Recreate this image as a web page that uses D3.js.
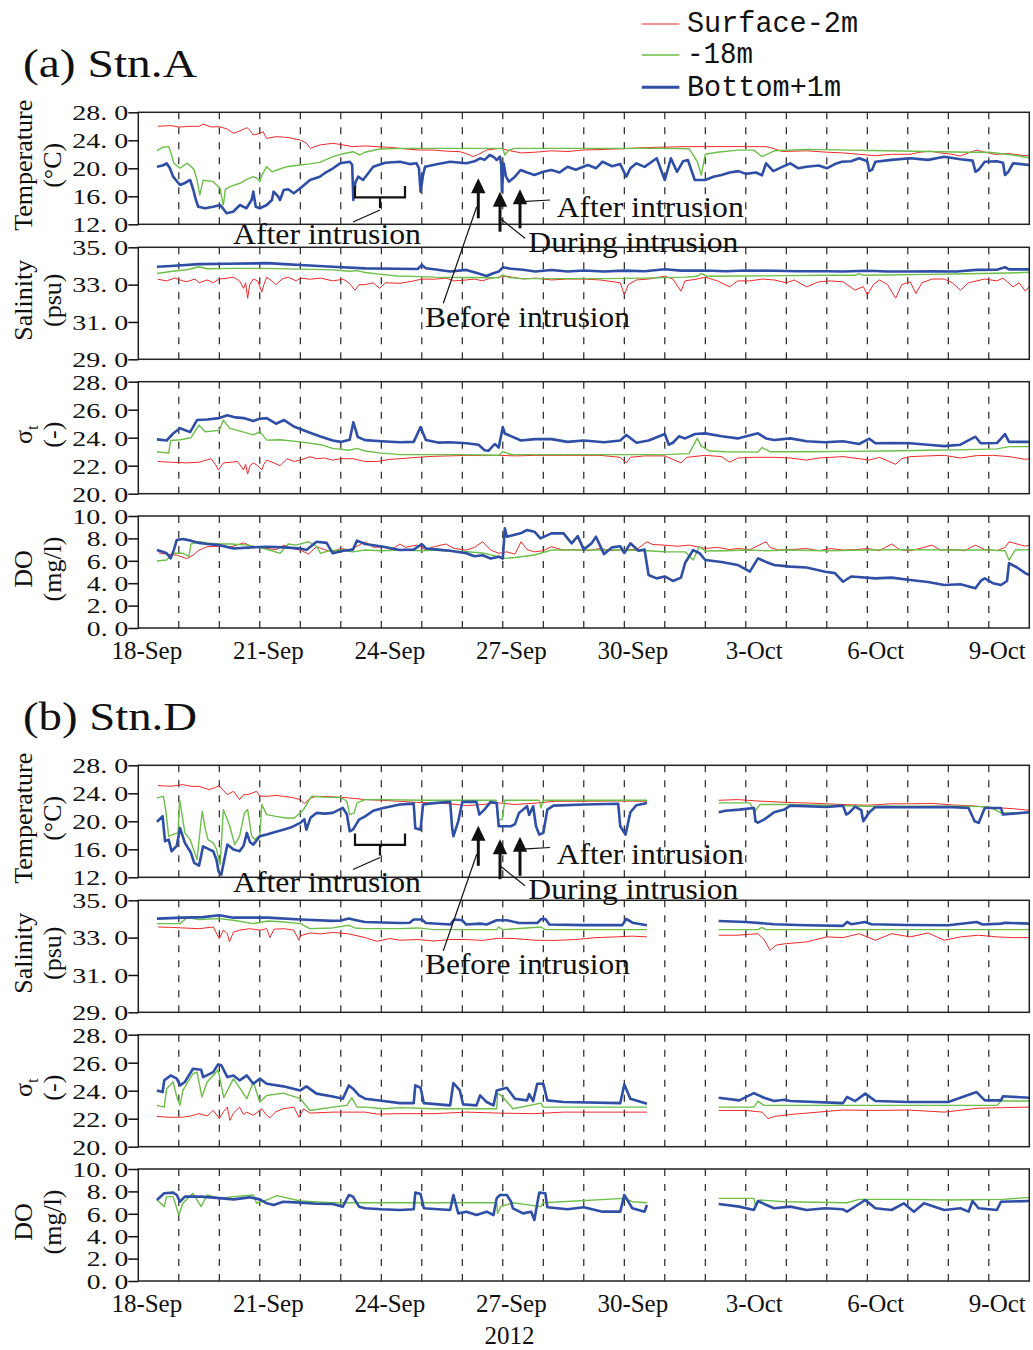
<!DOCTYPE html>
<html><head><meta charset="utf-8">
<script src="https://cdn.jsdelivr.net/npm/d3@7"></script>
<style>body{margin:0;background:#fff}</style>
</head><body><svg id="c" width="1033" height="1350" xmlns="http://www.w3.org/2000/svg"></svg>
<script>
// ---------------- DATA (day = days since 18-Sep-2012 00:00) ----------------
const seriesNames = ["Surface-2m", "-18m", "Bottom+1m"];
const xTickDays = [0, 3, 6, 9, 12, 15, 18, 21];
const xTickLabels = ["18-Sep", "21-Sep", "24-Sep", "27-Sep", "30-Sep", "3-Oct", "6-Oct", "9-Oct"];
const tempTicks = [28, 24, 20, 16, 12];
const salTicks = [35, 33, 31, 29];
const sigTicks = [28, 26, 24, 22, 20];
const doTicks = [10, 8, 6, 4, 2, 0];
const yearLabel = "2012";

// ---- Stn.A ----
const tempA_s = [[0.48,26.0],[0.8,26.1],[1.0,25.9],[1.3,26.0],[1.5,26.0],[1.6,26.3],[1.8,25.9],[2.0,25.95],[2.2,25.6],[2.35,25.0],[2.5,25.3],[2.68,25.8],[2.75,25.5],[2.84,24.76],[3.0,25.0],[3.08,25.24],[3.17,24.28],[3.4,24.52],[3.7,24.4],[4.0,24.04],[4.15,23.6],[4.25,22.85],[4.48,23.33],[4.8,23.57],[5.0,23.4],[5.3,23.09],[5.6,23.2],[5.9,23.09],[6.2,23.0],[6.46,22.85],[6.7,22.7],[6.96,22.61],[7.3,22.6],[7.6,22.45],[7.94,22.37],[8.1,22.1],[8.27,21.66],[8.4,22.0],[8.6,22.61],[8.93,22.85],[9.1,22.6],[9.46,22.2],[9.8,22.3],[10.2,22.5],[10.6,22.4],[11.0,22.61],[11.5,22.7],[12.0,22.8],[12.3,22.9],[12.8,23.0],[13.5,23.09],[14.5,23.1],[15.5,23.09],[15.7,22.8],[15.9,22.4],[16.5,22.5],[17.0,22.3],[17.4,22.2],[17.8,22.0],[18.2,21.8],[18.6,22.0],[19.05,22.0],[19.3,22.3],[19.56,22.45],[19.8,22.2],[20.1,22.0],[20.3,21.75],[20.5,22.2],[20.7,22.6],[20.9,22.3],[21.15,22.0],[21.5,22.1],[21.9,21.8],[22.0,21.9]];
const tempA_m = [[0.46,22.52],[0.6,23.0],[0.75,23.09],[0.8,22.3],[0.88,20.71],[1.03,20.0],[1.2,20.71],[1.3,20.3],[1.38,19.76],[1.45,18.3],[1.52,16.19],[1.6,18.3],[1.85,18.09],[2.02,17.14],[2.07,15.5],[2.1,14.76],[2.15,17.0],[2.26,17.37],[2.51,17.86],[2.7,18.5],[2.84,18.8],[2.95,18.5],[3.0,18.09],[3.05,19.0],[3.17,20.23],[3.3,19.5],[3.42,19.76],[3.66,20.23],[3.99,20.47],[4.2,20.6],[4.48,20.85],[4.81,21.66],[5.0,22.0],[5.3,22.37],[5.47,21.9],[5.6,22.3],[5.96,22.76],[6.5,22.85],[7.5,22.85],[8.5,22.85],[9.0,22.85],[9.05,21.9],[9.15,22.6],[9.3,22.85],[10,22.85],[11,22.85],[12,22.85],[13,22.85],[13.6,22.8],[13.8,21.0],[13.9,19.04],[14.0,22.0],[14.3,22.3],[14.8,22.6],[15.2,22.6],[15.4,21.66],[15.7,22.5],[16.5,22.7],[17.5,22.6],[18.5,22.5],[19.5,22.4],[20.5,22.3],[21.0,22.3],[21.6,21.9],[22.0,21.5]];
const tempA_b = [[0.46,20.23],[0.6,20.4],[0.7,20.71],[0.78,20.0],[0.86,18.8],[1.03,17.61],[1.15,17.9],[1.28,18.33],[1.36,16.9],[1.42,15.5],[1.48,14.51],[1.65,14.3],[1.85,14.51],[2.02,14.76],[2.1,14.2],[2.18,13.57],[2.34,13.8],[2.51,14.76],[2.6,14.5],[2.67,14.29],[2.8,15.5],[2.84,16.66],[2.9,14.51],[3.0,14.3],[3.17,14.76],[3.3,15.47],[3.34,16.66],[3.45,16.0],[3.5,15.47],[3.59,16.9],[3.7,17.0],[3.84,16.43],[4.0,17.14],[4.24,18.33],[4.48,18.8],[4.6,19.3],[4.81,20.0],[4.98,20.71],[5.22,20.94],[5.28,20.5],[5.31,15.47],[5.36,18.0],[5.43,18.8],[5.55,18.33],[5.8,20.23],[6.1,20.8],[6.46,20.94],[6.7,20.6],[6.87,20.71],[6.93,20.0],[6.97,16.66],[7.03,19.0],[7.08,20.23],[7.4,20.6],[7.7,20.94],[8.1,20.71],[8.3,21.0],[8.44,21.43],[8.55,21.2],[8.68,21.9],[8.78,21.6],[8.85,21.19],[8.93,21.66],[8.96,20.5],[8.98,16.66],[9.02,20.71],[9.08,18.8],[9.15,18.09],[9.3,18.8],[9.44,19.76],[9.6,19.4],[9.78,19.04],[10.0,19.5],[10.2,19.76],[10.4,19.4],[10.6,20.23],[10.8,19.8],[11.1,20.47],[11.3,20.0],[11.46,20.94],[11.7,20.3],[11.9,20.6],[12.05,18.8],[12.15,20.0],[12.3,20.71],[12.5,20.2],[12.8,21.43],[13.0,18.33],[13.15,21.43],[13.3,19.5],[13.45,21.0],[13.57,21.19],[13.74,18.33],[14.0,18.33],[14.2,18.8],[14.4,19.04],[14.6,19.4],[14.82,19.6],[15.0,19.2],[15.25,19.4],[15.4,19.0],[15.5,20.71],[15.68,19.6],[15.9,20.2],[16.1,20.71],[16.3,20.0],[16.5,20.23],[16.8,20.4],[17.0,20.0],[17.2,20.6],[17.37,20.94],[17.6,21.0],[17.8,21.43],[18.0,21.0],[18.05,19.6],[18.12,19.8],[18.2,20.94],[18.6,21.2],[19.06,21.43],[19.5,21.2],[19.9,21.66],[20.3,21.3],[20.6,21.1],[20.67,19.5],[20.75,19.8],[20.9,20.94],[21.2,21.0],[21.35,20.8],[21.4,19.04],[21.48,19.5],[21.6,20.71],[21.8,20.6],[22.0,20.47]];

const salA_s = [[0.48,33.29],[0.7,33.2],[0.9,33.35],[1.1,33.2],[1.2,33.16],[1.4,33.3],[1.5,33.1],[1.7,33.25],[1.85,33.1],[2.0,33.3],[2.2,33.35],[2.35,33.4],[2.5,33.2],[2.6,32.8],[2.65,33.1],[2.7,32.27],[2.75,33.0],[2.84,33.3],[2.95,33.2],[3.05,32.6],[3.1,33.0],[3.17,33.4],[3.3,33.2],[3.4,33.0],[3.55,33.3],[3.7,33.4],[3.9,33.2],[4.0,33.35],[4.24,33.29],[4.5,33.35],[4.8,33.2],[5.06,33.29],[5.2,33.1],[5.35,32.7],[5.45,33.0],[5.6,33.0],[5.8,33.1],[5.96,32.8],[6.1,33.1],[6.46,33.07],[6.8,33.2],[7.0,33.3],[7.3,33.29],[7.6,33.35],[7.8,33.2],[8.1,33.25],[8.3,33.3],[8.5,33.2],[8.7,33.35],[8.9,33.4],[9.1,33.45],[9.5,33.3],[9.8,33.35],[10.2,33.25],[10.6,33.3],[11.0,33.3],[11.4,33.25],[11.9,33.1],[12.0,32.45],[12.1,33.0],[12.3,33.25],[12.6,33.3],[13.0,33.45],[13.2,33.3],[13.4,32.65],[13.5,33.2],[13.8,33.3],[14.0,33.4],[14.3,33.2],[14.6,32.88],[14.8,33.2],[15.1,33.2],[15.4,33.3],[15.7,33.25],[16.0,33.1],[16.2,33.25],[16.5,32.88],[16.8,33.15],[17.1,33.2],[17.4,33.15],[17.7,32.7],[17.9,32.9],[18.0,32.45],[18.15,33.0],[18.3,33.25],[18.5,33.0],[18.7,32.27],[18.85,33.0],[19.06,33.15],[19.2,32.52],[19.35,33.1],[19.6,33.3],[19.9,33.3],[20.1,33.1],[20.3,32.7],[20.5,33.1],[20.9,33.3],[21.2,33.2],[21.35,33.35],[21.6,32.88],[21.75,33.1],[21.9,32.65],[22.0,32.9]];
const salA_m = [[0.46,33.6],[0.8,33.7],[1.2,33.8],[1.5,33.96],[1.7,33.85],[2.3,33.87],[3.1,33.87],[4.0,33.83],[4.8,33.79],[5.2,33.72],[5.4,33.75],[5.6,33.65],[6.0,33.55],[6.4,33.46],[7.0,33.43],[7.3,33.4],[8.0,33.38],[8.9,33.37],[9.0,33.52],[9.15,33.38],[9.5,33.32],[10.5,33.32],[11.5,33.32],[12.5,33.35],[13.5,33.4],[13.8,33.45],[13.9,33.59],[14.05,33.45],[15.0,33.46],[16.0,33.48],[17.0,33.5],[17.7,33.5],[17.8,33.59],[17.9,33.5],[18.5,33.52],[19.5,33.55],[20.5,33.58],[21.5,33.62],[22.0,33.66]];
const salA_b = [[0.46,33.96],[0.8,34.0],[1.5,34.1],[2.2,34.12],[3.2,34.15],[3.6,34.1],[4.0,34.05],[4.8,33.96],[5.6,33.87],[6.4,33.85],[6.9,33.84],[7.0,34.05],[7.1,33.88],[7.3,33.82],[7.7,33.7],[8.1,33.79],[8.4,33.6],[8.6,33.46],[8.75,33.6],[8.9,33.7],[9.0,33.93],[9.2,33.85],[9.5,33.8],[9.8,33.7],[10.2,33.78],[10.6,33.7],[11.0,33.76],[11.5,33.7],[12.0,33.75],[12.5,33.72],[13.0,33.82],[13.4,33.75],[14.0,33.76],[14.5,33.72],[15.0,33.76],[15.7,33.74],[16.3,33.72],[17.0,33.72],[17.4,33.7],[18.0,33.74],[18.5,33.7],[19.06,33.7],[19.6,33.72],[20.2,33.7],[20.7,33.79],[21.2,33.8],[21.4,33.93],[21.5,33.82],[22.0,33.82]];

const sigA_s = [[0.48,22.3],[0.8,22.25],[1.2,22.2],[1.5,22.25],[1.8,22.5],[1.9,22.1],[1.98,21.7],[2.1,22.2],[2.3,22.25],[2.45,22.3],[2.6,21.7],[2.65,22.1],[2.7,21.4],[2.76,22.0],[2.84,22.2],[2.95,22.0],[3.05,21.7],[3.1,22.1],[3.17,22.4],[3.35,22.2],[3.5,22.0],[3.67,22.5],[3.85,22.3],[4.0,22.4],[4.24,22.64],[4.4,22.5],[4.6,22.55],[4.8,22.4],[5.0,22.5],[5.3,22.5],[5.6,22.3],[5.9,22.3],[6.2,22.45],[6.46,22.5],[6.9,22.6],[7.3,22.67],[7.7,22.7],[8.1,22.74],[8.5,22.72],[8.9,22.74],[9.3,22.7],[9.8,22.74],[10.5,22.74],[11.4,22.74],[11.9,22.6],[12.05,22.2],[12.15,22.6],[12.5,22.7],[13.0,22.7],[13.4,22.2],[13.55,22.6],[14.0,22.74],[14.4,22.65],[14.6,22.25],[14.8,22.55],[15.2,22.6],[15.7,22.6],[16.1,22.55],[16.5,22.4],[16.8,22.55],[17.4,22.65],[17.8,22.5],[18.05,22.4],[18.3,22.6],[18.7,22.1],[18.85,22.5],[19.06,22.65],[19.5,22.7],[19.9,22.74],[20.3,22.55],[20.7,22.72],[21.1,22.74],[21.5,22.65],[21.9,22.45],[22.0,22.5]];
const sigA_m = [[0.46,23.0],[0.75,22.9],[0.8,23.8],[1.03,23.85],[1.3,24.0],[1.5,24.9],[1.65,24.43],[2.0,24.52],[2.1,25.26],[2.26,24.67],[2.6,24.4],[2.84,24.2],[3.0,24.43],[3.17,23.83],[3.5,23.85],[4.0,23.7],[4.5,23.5],[4.8,23.24],[5.2,23.1],[5.4,23.24],[5.6,23.05],[6.0,22.9],[6.46,22.79],[7.0,22.79],[8.0,22.79],[8.9,22.75],[9.0,23.0],[9.2,22.8],[10,22.79],[11,22.79],[12,22.79],[13,22.79],[13.6,22.86],[13.8,23.95],[13.9,23.4],[14.1,23.05],[14.5,23.0],[15.3,22.97],[15.4,23.3],[15.6,23.0],[16.5,23.0],[17.5,23.02],[18.5,23.05],[19.5,23.1],[20.5,23.15],[21.2,23.2],[21.5,23.36],[22.0,23.36]];
const sigA_b = [[0.46,23.88],[0.7,23.8],[0.86,24.3],[1.03,24.67],[1.28,24.4],[1.45,25.26],[1.7,25.3],[2.0,25.4],[2.2,25.6],[2.4,25.45],[2.6,25.4],[2.84,25.2],[3.0,25.35],[3.17,25.4],[3.4,25.0],[3.6,25.26],[3.84,24.8],[4.24,24.36],[4.48,24.1],[4.8,23.8],[5.0,23.7],[5.22,23.85],[5.31,25.1],[5.42,24.05],[5.6,23.83],[6.0,23.75],[6.46,23.67],[6.8,23.7],[6.97,24.76],[7.1,23.83],[7.4,23.65],[7.7,23.67],[8.1,23.6],[8.4,23.5],[8.55,23.1],[8.65,23.07],[8.8,23.55],[8.9,23.3],[9.0,24.76],[9.05,24.3],[9.45,23.8],[9.8,23.9],[10.2,23.9],[10.6,23.7],[11.0,23.8],[11.5,23.67],[11.9,23.8],[12.05,24.19],[12.3,23.64],[12.6,23.8],[13.0,24.26],[13.1,23.5],[13.2,23.64],[13.35,24.1],[13.5,23.95],[13.75,24.26],[14.0,24.31],[14.4,24.1],[14.8,23.95],[15.3,24.31],[15.5,23.95],[15.7,23.83],[16.1,23.95],[16.5,23.75],[16.95,23.67],[17.4,23.75],[17.8,23.55],[18.05,23.93],[18.2,23.6],[18.6,23.62],[19.06,23.6],[19.5,23.5],[19.9,23.4],[20.3,23.5],[20.67,24.07],[20.8,23.6],[21.2,23.62],[21.4,24.26],[21.5,23.7],[22.0,23.7]];

const doA_s = [[0.5,6.7],[0.7,6.6],[0.95,6.5],[1.2,6.2],[1.35,6.5],[1.5,6.96],[1.7,7.26],[2.0,7.3],[2.3,7.26],[2.6,7.6],[2.8,7.3],[3.17,7.1],[3.4,7.0],[3.6,7.4],[3.8,7.1],[4.0,6.96],[4.2,6.6],[4.4,7.26],[4.6,7.0],[4.8,6.8],[5.0,7.1],[5.2,6.96],[5.4,7.3],[5.6,7.7],[5.8,7.2],[6.05,7.26],[6.25,7.0],[6.46,7.5],[6.6,7.2],[6.87,7.4],[7.1,7.0],[7.3,7.26],[7.6,7.5],[7.8,7.1],[8.1,6.96],[8.3,7.2],[8.5,7.7],[8.7,6.96],[8.9,6.67],[9.1,6.8],[9.3,6.6],[9.45,7.7],[9.6,7.0],[9.78,6.8],[10.0,6.9],[10.2,7.26],[10.5,6.96],[10.8,7.0],[11.1,6.9],[11.4,7.1],[11.7,6.9],[12.0,7.0],[12.3,7.0],[12.56,7.7],[12.7,7.45],[13.0,7.4],[13.3,7.3],[13.6,7.4],[14.0,7.1],[14.3,7.2],[14.6,7.0],[14.8,7.1],[15.1,7.0],[15.5,7.7],[15.6,7.2],[15.8,6.96],[16.1,7.0],[16.5,7.1],[16.8,6.9],[17.1,7.1],[17.4,6.96],[17.7,7.0],[18.0,7.1],[18.3,6.9],[18.6,7.5],[18.8,7.0],[19.06,6.9],[19.3,7.1],[19.6,7.4],[19.8,6.96],[20.1,7.0],[20.4,6.9],[20.67,7.4],[20.9,7.0],[21.2,6.9],[21.4,7.2],[21.5,7.7],[21.7,7.5],[21.9,7.3],[22.0,7.4]];
const doA_m = [[0.46,5.98],[0.7,6.07],[0.86,6.67],[1.1,6.67],[1.25,6.4],[1.3,7.5],[1.5,7.7],[1.7,7.6],[2.0,7.5],[2.3,7.5],[2.7,7.4],[3.1,7.1],[3.3,6.9],[3.5,6.67],[3.7,7.5],[3.9,7.4],[4.2,7.7],[4.4,7.3],[4.5,6.67],[4.7,6.9],[5.0,6.96],[5.3,6.8],[5.6,6.96],[6.0,6.9],[6.46,6.96],[7.0,6.9],[7.3,6.96],[7.7,6.85],[8.1,6.81],[8.5,6.7],[8.9,6.37],[9.05,6.22],[9.3,6.3],[9.78,6.52],[10.2,6.96],[11.0,6.96],[12.0,6.96],[12.56,6.9],[13.0,6.81],[13.5,6.8],[13.7,6.07],[13.85,7.26],[14.0,6.87],[14.5,6.9],[15.0,6.96],[15.5,6.9],[16.0,6.96],[17.0,6.9],[18.0,6.96],[19.0,7.0],[20.0,6.96],[21.0,6.96],[21.4,6.9],[21.5,6.07],[21.65,6.96],[22.0,7.0]];
const doA_b = [[0.46,6.96],[0.6,6.8],[0.7,6.67],[0.8,6.22],[0.88,7.0],[0.95,7.86],[1.1,7.95],[1.3,7.8],[1.5,7.6],[1.7,7.5],[2.0,7.4],[2.35,7.1],[2.8,7.2],[3.17,7.26],[3.6,7.2],[4.0,7.1],[4.15,6.96],[4.4,7.7],[4.65,7.6],[4.8,6.67],[5.06,6.9],[5.3,7.0],[5.4,7.8],[5.6,7.5],[6.05,7.26],[6.46,6.96],[6.8,7.0],[7.0,7.5],[7.1,7.1],[7.4,7.0],[7.7,6.9],[8.1,6.67],[8.3,6.4],[8.5,6.5],[8.7,6.2],[8.9,6.37],[9.0,6.2],[9.05,8.9],[9.1,8.15],[9.27,8.3],[9.44,8.45],[9.6,8.75],[9.78,8.6],[9.93,8.0],[10.2,8.45],[10.5,8.45],[10.7,7.56],[10.85,8.2],[11.0,7.0],[11.2,7.6],[11.3,8.15],[11.5,6.6],[11.7,7.2],[11.9,7.3],[12.0,6.7],[12.15,7.56],[12.35,6.9],[12.5,7.0],[12.6,4.73],[12.8,4.43],[13.0,4.6],[13.2,4.2],[13.4,4.5],[13.5,5.8],[13.7,6.96],[13.85,6.7],[14.0,6.07],[14.4,5.9],[14.8,5.63],[15.1,5.03],[15.3,6.22],[15.5,5.9],[15.7,5.63],[16.1,5.48],[16.5,5.4],[16.96,5.03],[17.2,4.9],[17.4,4.13],[17.6,4.6],[18.2,4.43],[18.6,4.5],[19.06,4.29],[19.5,4.1],[19.9,3.84],[20.3,3.9],[20.67,3.54],[20.8,4.2],[20.9,4.43],[21.1,4.0],[21.3,3.84],[21.45,4.2],[21.5,5.78],[21.7,5.4],[21.9,4.9],[22.0,4.73]];

// ---- Stn.D (null = no data, instrument gap) ----
const tempD_s = [[0.49,25.1],[0.8,25.0],[1.1,25.24],[1.3,25.0],[1.5,25.0],[1.75,24.53],[1.9,24.8],[2.0,25.1],[2.1,24.4],[2.2,23.81],[2.35,24.29],[2.5,23.1],[2.6,23.8],[2.68,23.81],[2.8,24.0],[2.92,24.29],[3.0,23.6],[3.17,23.57],[3.4,23.7],[3.58,23.57],[3.8,23.4],[4.0,23.1],[4.1,22.53],[4.25,23.3],[4.4,23.57],[4.8,23.5],[5.2,23.34],[5.6,23.1],[6.0,23.0],[6.46,22.86],[6.87,22.7],[7.3,22.63],[7.7,22.5],[8.1,22.24],[8.5,22.4],[8.9,22.63],[9.3,22.4],[9.8,22.6],[10.3,22.86],[11.0,22.86],[11.8,22.9],[12.56,22.86],[13.5,null],[14.33,23.0],[14.8,23.1],[15.3,22.9],[16.0,22.7],[16.6,22.6],[17.4,22.39],[18.0,22.3],[18.6,22.5],[19.1,22.5],[19.6,22.55],[20.2,22.3],[20.6,22.2],[21.0,22.0],[21.3,21.91],[21.6,21.8],[22.0,21.57]];
const tempD_m = [[0.46,23.34],[0.62,23.57],[0.68,21.5],[0.75,17.86],[0.9,18.2],[0.98,18.34],[1.02,23.1],[1.08,21.0],[1.15,18.34],[1.28,17.39],[1.45,14.53],[1.55,20.0],[1.58,21.43],[1.65,19.0],[1.72,17.39],[1.85,16.91],[1.93,16.0],[2.02,13.81],[2.1,21.67],[2.26,19.29],[2.38,16.67],[2.5,17.86],[2.62,21.2],[2.7,21.67],[2.8,17.86],[2.88,17.39],[3.0,18.0],[3.05,22.39],[3.17,20.96],[3.4,20.7],[3.65,20.48],[3.85,20.48],[4.0,21.2],[4.08,21.67],[4.2,22.86],[4.28,23.57],[4.6,23.45],[5.0,23.4],[5.15,22.86],[5.22,20.96],[5.33,21.2],[5.4,22.63],[5.6,23.1],[6.0,23.1],[7.0,23.0],[8.0,23.0],[8.83,23.0],[8.88,20.24],[8.98,20.24],[9.05,23.0],[9.5,23.0],[9.9,23.0],[9.94,21.91],[10.0,23.0],[11.0,23.0],[12.0,23.0],[12.56,23.0],[13.5,null],[14.33,22.63],[15.1,22.63],[15.22,21.43],[15.35,22.39],[16.0,22.39],[17.0,22.3],[17.9,22.15],[19.0,22.15],[20.0,22.15],[21.0,22.1],[21.3,21.2],[21.6,21.2],[22.0,21.2]];
const tempD_b = [[0.46,19.91],[0.6,20.72],[0.66,17.15],[0.75,17.39],[0.82,15.72],[0.95,16.5],[1.03,19.05],[1.15,16.91],[1.3,15.5],[1.38,14.05],[1.5,13.67],[1.6,16.43],[1.75,16.0],[1.85,15.72],[1.93,14.5],[1.98,12.86],[2.05,12.39],[2.2,16.67],[2.35,15.96],[2.5,15.72],[2.6,16.5],[2.68,18.34],[2.76,17.0],[2.84,16.67],[3.0,17.86],[3.17,18.1],[3.4,18.5],[3.58,18.81],[3.8,19.2],[4.0,19.77],[4.1,20.3],[4.15,18.81],[4.25,20.5],[4.4,21.2],[4.6,21.1],[4.8,21.2],[5.05,21.91],[5.15,21.0],[5.22,18.57],[5.3,18.81],[5.45,20.24],[5.6,20.7],[5.8,21.5],[6.05,21.91],[6.46,22.39],[6.8,22.53],[6.84,19.0],[6.97,18.81],[7.03,22.4],[7.3,22.6],[7.7,22.77],[7.75,19.0],[7.78,17.86],[7.9,20.0],[8.0,22.77],[8.35,22.77],[8.42,20.96],[8.55,21.7],[8.7,22.77],[8.85,22.6],[8.9,19.29],[9.2,19.29],[9.3,19.6],[9.4,21.2],[9.6,22.15],[9.65,20.9],[9.75,22.15],[9.82,19.29],[9.9,18.1],[10.0,18.34],[10.1,21.67],[10.25,22.24],[11.0,22.39],[11.85,22.5],[11.9,19.29],[12.03,18.1],[12.15,21.29],[12.3,22.3],[12.56,22.6],[13.5,null],[14.33,21.29],[14.5,21.5],[14.84,21.67],[15.2,21.9],[15.24,20.0],[15.3,19.8],[15.45,20.24],[15.7,21.29],[15.95,21.67],[16.1,22.24],[17.0,22.05],[17.4,22.24],[17.48,20.96],[17.55,21.2],[17.7,22.1],[17.85,21.6],[17.9,20.0],[18.05,21.29],[18.2,22.05],[19.0,22.0],[20.0,22.05],[20.5,21.9],[20.65,20.0],[20.75,19.77],[20.9,21.91],[21.3,21.91],[21.35,20.96],[21.6,21.1],[22.0,21.29]];

const salD_s = [[0.49,33.57],[0.8,33.55],[1.1,33.52],[1.5,33.48],[1.85,33.57],[2.0,32.95],[2.1,33.4],[2.2,33.21],[2.25,32.77],[2.35,33.3],[2.5,33.4],[2.75,33.48],[3.0,33.4],[3.17,33.48],[3.25,33.0],[3.35,33.45],[3.6,33.48],[3.84,33.4],[3.97,32.85],[4.0,33.1],[4.24,33.25],[4.5,33.2],[4.8,33.28],[5.2,33.2],[5.6,33.0],[5.9,32.8],[6.2,32.95],[6.46,32.86],[6.9,32.9],[7.3,32.82],[7.7,32.9],[8.1,32.9],[8.5,32.85],[8.9,32.97],[9.3,32.95],[9.8,32.86],[10.3,32.85],[10.8,32.9],[11.3,33.0],[11.8,33.04],[12.2,33.08],[12.56,33.04],[13.5,null],[14.33,33.13],[14.8,33.13],[15.3,33.21],[15.45,32.9],[15.6,32.32],[15.75,32.6],[16.0,32.68],[16.5,32.77],[17.0,33.04],[17.4,33.0],[17.8,33.21],[18.2,32.86],[18.6,33.21],[19.06,33.04],[19.5,33.25],[19.9,32.86],[20.3,33.04],[20.75,33.13],[21.2,33.04],[21.6,33.0],[22.0,33.0]];
const salD_m = [[0.46,33.75],[1.03,33.75],[1.2,34.07],[1.5,33.97],[2.0,34.02],[2.35,33.93],[2.84,33.75],[3.2,33.89],[3.6,33.84],[4.0,33.75],[4.24,33.48],[4.8,33.52],[5.2,33.66],[5.35,33.52],[5.6,33.48],[6.46,33.48],[6.9,33.52],[7.3,33.43],[8.0,33.43],[8.85,33.43],[8.9,33.57],[9.0,33.43],[9.94,33.57],[10.05,33.43],[11.0,33.43],[12.56,33.43],[13.5,null],[14.33,33.43],[15.3,33.43],[15.4,33.55],[15.5,33.43],[17.0,33.43],[19.0,33.43],[21.0,33.43],[22.0,33.43]];
const salD_b = [[0.46,34.02],[1.1,34.07],[1.6,34.1],[2.0,34.2],[2.35,34.07],[3.2,34.07],[4.0,33.97],[4.8,33.9],[5.0,33.92],[5.2,34.02],[5.35,33.95],[5.6,33.84],[6.46,33.78],[6.7,33.8],[6.8,33.97],[7.0,33.97],[7.1,33.78],[7.7,33.7],[7.8,33.97],[8.0,33.93],[8.1,33.7],[8.44,33.75],[8.6,33.7],[8.85,33.93],[9.1,33.93],[9.4,33.78],[9.85,33.78],[9.95,34.0],[10.05,34.0],[10.15,33.7],[11.0,33.67],[11.95,33.67],[12.05,34.0],[12.2,33.8],[12.56,33.66],[13.5,null],[14.33,33.89],[15.0,33.84],[15.7,33.72],[16.5,33.66],[17.4,33.63],[17.5,33.84],[17.6,33.72],[17.95,33.84],[18.1,33.72],[19.0,33.68],[20.0,33.66],[20.7,33.84],[20.85,33.7],[21.3,33.75],[21.4,33.8],[22.0,33.75]];

const sigD_s = [[0.46,22.16],[0.8,22.1],[1.1,22.11],[1.3,22.2],[1.5,22.36],[1.7,22.2],[1.85,22.59],[2.0,22.0],[2.1,22.5],[2.2,22.83],[2.26,21.88],[2.35,22.4],[2.5,22.83],[2.6,22.3],[2.68,22.47],[2.84,22.24],[3.05,22.71],[3.15,22.3],[3.25,22.07],[3.4,22.5],[3.58,22.71],[3.84,22.83],[3.97,22.1],[4.08,22.71],[4.24,22.4],[4.8,22.47],[5.6,22.47],[5.9,22.33],[6.46,22.36],[7.3,22.36],[8.1,22.47],[8.9,22.4],[9.75,22.36],[10.5,22.47],[11.5,22.47],[12.56,22.47],[13.5,null],[14.33,22.59],[15.0,22.59],[15.4,22.47],[15.55,22.0],[15.7,22.16],[16.1,22.3],[16.5,22.4],[17.4,22.62],[18.2,22.59],[19.0,22.62],[19.9,22.47],[20.75,22.75],[22.0,22.83]];
const sigD_m = [[0.46,22.95],[0.64,22.83],[0.7,24.14],[0.86,24.62],[0.95,23.55],[1.03,22.95],[1.1,24.02],[1.35,25.21],[1.45,25.33],[1.57,23.55],[1.7,24.62],[1.85,25.09],[1.97,25.5],[2.11,23.5],[2.35,24.86],[2.68,23.43],[2.84,24.62],[3.0,23.19],[3.17,23.66],[3.58,23.83],[4.0,23.43],[4.1,23.07],[4.24,22.59],[4.8,22.83],[5.15,22.95],[5.27,23.5],[5.4,22.83],[5.6,22.83],[6.05,22.71],[6.46,22.79],[7.3,22.71],[8.85,22.71],[8.87,23.83],[9.0,23.55],[9.25,22.71],[9.94,23.11],[10.0,22.83],[11.0,22.83],[12.56,22.83],[13.5,null],[14.33,22.83],[15.2,22.83],[15.3,23.26],[15.45,22.95],[17.0,22.95],[19.0,22.95],[21.2,22.95],[21.3,23.26],[22.0,23.26]];
const sigD_b = [[0.46,24.02],[0.6,23.9],[0.64,24.74],[0.8,25.09],[0.95,24.86],[1.03,24.38],[1.15,24.62],[1.35,25.57],[1.55,25.5],[1.6,24.97],[1.85,25.33],[1.97,25.88],[2.05,25.81],[2.2,24.97],[2.35,25.09],[2.5,24.74],[2.68,25.09],[2.84,24.5],[3.0,24.86],[3.17,24.5],[3.58,24.31],[4.0,24.02],[4.15,24.31],[4.4,23.79],[4.8,23.59],[5.05,23.43],[5.2,24.38],[5.3,24.14],[5.45,23.66],[5.6,23.43],[6.05,23.26],[6.46,23.11],[6.8,23.11],[6.84,24.38],[6.97,24.21],[7.05,23.11],[7.7,22.95],[7.78,24.55],[7.94,24.02],[8.02,23.02],[8.35,22.95],[8.44,23.66],[8.6,23.19],[8.77,22.95],[8.85,24.02],[9.1,24.21],[9.3,23.43],[9.6,23.31],[9.65,23.76],[9.75,23.26],[9.85,24.5],[10.0,24.5],[10.1,23.31],[10.5,23.19],[11.9,23.11],[12.0,24.45],[12.15,23.43],[12.56,23.07],[13.5,null],[14.33,23.5],[14.84,23.31],[15.2,23.83],[15.45,23.5],[15.7,23.26],[15.95,23.35],[16.1,23.26],[17.4,23.11],[17.5,23.55],[17.7,23.26],[17.95,23.79],[18.2,23.26],[19.0,23.19],[20.0,23.19],[20.7,23.9],[20.9,23.31],[21.3,23.31],[21.35,23.6],[22.0,23.5]];

const doD_s = [];
const doD_m = [[0.46,7.23],[0.64,6.64],[0.7,7.53],[0.86,7.53],[1.0,5.89],[1.1,6.94],[1.35,7.83],[1.55,6.64],[1.7,7.68],[2.0,7.38],[2.35,7.53],[2.84,7.68],[2.92,6.94],[3.17,7.23],[3.42,7.62],[4.0,7.14],[4.8,6.99],[5.6,6.99],[7.3,6.99],[8.85,6.99],[8.87,6.04],[8.95,6.64],[9.25,6.99],[9.94,6.64],[10.0,6.99],[12.0,7.38],[12.2,7.08],[12.56,6.99],[13.5,null],[14.33,7.38],[15.2,7.38],[15.24,6.7],[15.35,7.23],[15.95,7.08],[17.5,6.99],[17.8,7.29],[19.0,7.29],[20.0,7.23],[21.35,7.29],[22.0,7.47]];
const doD_b = [[0.46,7.23],[0.64,7.83],[0.86,7.89],[0.95,7.68],[1.03,7.08],[1.15,7.53],[1.55,7.53],[2.0,7.4],[2.35,7.29],[2.75,7.47],[3.0,7.29],[3.17,6.94],[3.34,6.79],[3.58,7.08],[4.0,7.0],[4.4,6.9],[4.8,6.88],[5.05,6.64],[5.2,7.68],[5.3,7.53],[5.45,6.64],[5.6,6.49],[6.0,6.4],[6.46,6.34],[6.8,6.4],[6.84,7.89],[6.97,7.77],[7.05,6.49],[7.4,6.4],[7.7,6.34],[7.78,7.68],[7.9,6.04],[8.1,6.19],[8.35,5.89],[8.6,6.19],[8.77,5.89],[8.85,7.4],[8.93,7.68],[9.1,7.68],[9.2,7.1],[9.25,6.49],[9.5,6.04],[9.7,6.19],[9.78,5.45],[9.85,6.9],[9.9,7.89],[10.05,7.83],[10.1,6.58],[10.6,6.4],[11.0,6.58],[11.46,6.19],[11.9,6.19],[12.0,7.68],[12.2,6.49],[12.5,6.19],[12.56,6.79],[13.5,null],[14.33,6.88],[14.84,6.64],[15.2,6.34],[15.3,7.14],[15.45,6.88],[15.7,6.49],[16.1,6.64],[16.5,6.34],[16.96,6.49],[17.4,6.4],[17.5,6.19],[17.95,7.23],[18.2,6.49],[18.6,6.34],[18.9,6.94],[19.15,6.19],[19.4,6.94],[19.9,6.34],[20.3,6.49],[20.5,6.19],[20.6,7.14],[20.75,6.49],[21.2,6.34],[21.3,7.08],[22.0,7.14]];

// ---------------- RENDERING ----------------
const svg = d3.select("#c");
const SERIF = "'Liberation Serif','Times New Roman',serif";
const colors = ["#ee2a2a", "#6cbf47", "#2f4ea6"];
const widths = [1, 1.4, 2.6];

const T0 = Date.UTC(2012, 8, 18);
const toDate = d => new Date(T0 + d * 864e5);
const x = d3.scaleUtc().domain([toDate(0), toDate(22)]).range([138.3, 1029.3]);

const vars = [
  {domain: [12, 28], ticks: tempTicks, t1: "Temperature", t2: "(°C)"},
  {domain: [29, 35], ticks: salTicks, t1: "Salinity", t2: "(psu)"},
  {domain: [20, 28], ticks: sigTicks, t1: "σ", t2: "(-)"},
  {domain: [0, 10], ticks: doTicks, t1: "DO", t2: "(mg/l)"}
];
const panelTops = [112.3, 247.3, 381.7, 516];
const PH = 112;

const stations = [
  {title: "(a) Stn.A", off: 0, annOff: 0,
   data: [[tempA_s, tempA_m, tempA_b], [salA_s, salA_m, salA_b], [sigA_s, sigA_m, sigA_b], [doA_s, doA_m, doA_b]]},
  {title: "(b) Stn.D", off: 653, annOff: 647.5,
   data: [[tempD_s, tempD_m, tempD_b], [salD_s, salD_m, salD_b], [sigD_s, sigD_m, sigD_b], [doD_s, doD_m, doD_b]]}
];

const fmt = v => v.toFixed(1).replace(".", ". ");

stations.forEach(st => {
  svg.append("text").attr("x", 23).attr("y", 76.5 + st.off)
    .attr("font-family", SERIF).attr("font-size", 41).attr("fill", "#111")
    .attr("textLength", 174).attr("lengthAdjust", "spacingAndGlyphs").text(st.title);

  vars.forEach((v, pi) => {
    const top = panelTops[pi] + st.off;
    const y = d3.scaleLinear().domain(v.domain).range([top + PH, top]);
    const g = svg.append("g");

    g.selectAll("line.grid").data(d3.range(1, 22)).join("line")
      .attr("x1", d => x(toDate(d))).attr("x2", d => x(toDate(d)))
      .attr("y1", top).attr("y2", top + PH)
      .attr("stroke", "#111").attr("stroke-width", 1.1).attr("stroke-dasharray", "7,8");

    const line = d3.line().defined(d => d[1] != null)
      .x(d => x(toDate(d[0]))).y(d => y(d[1]));
    st.data[pi].forEach((arr, si) => {
      if (!arr.length) return;
      g.append("path").datum(arr).attr("d", line).attr("fill", "none")
        .attr("stroke", colors[si]).attr("stroke-width", widths[si])
        .attr("stroke-linejoin", "round");
    });

    g.append("rect").attr("x", 138.3).attr("y", top).attr("width", 1029.3 - 138.3).attr("height", PH)
      .attr("fill", "none").attr("stroke", "#222").attr("stroke-width", 1.5);

    const ax = svg.append("g").attr("transform", `translate(138.3,0)`)
      .call(d3.axisLeft(y).tickValues(v.ticks).tickSize(10).tickPadding(0).tickFormat(fmt));
    ax.attr("font-family", SERIF);
    ax.select(".domain").remove();
    ax.selectAll(".tick line").attr("stroke", "#111").attr("stroke-width", 1.5);
    ax.selectAll(".tick text").attr("font-family", SERIF).attr("font-size", 21).attr("fill", "#111")
      .attr("dy", "0.35em")
      .attr("textLength", d => fmt(d).length === 5 ? 56 : 41.5).attr("lengthAdjust", "spacingAndGlyphs");

    const cy = top + PH / 2 - 3;
    const t1 = svg.append("text").attr("transform", `translate(32,${cy}) rotate(-90)`)
      .attr("text-anchor", "middle").attr("font-family", SERIF).attr("font-size", 26).attr("fill", "#111");
    if (pi === 2) {
      t1.append("tspan").text("σ");
      t1.append("tspan").attr("font-size", 17).attr("dy", 6).text("t");
    } else {
      t1.text(v.t1);
    }
    svg.append("text").attr("transform", `translate(61,${cy}) rotate(-90)`)
      .attr("text-anchor", "middle").attr("font-family", SERIF).attr("font-size", 26).attr("fill", "#111")
      .text(v.t2);

    if (pi === 3) {
      const xa = svg.append("g").attr("transform", `translate(0,${top + PH})`)
        .call(d3.axisBottom(x).tickValues(xTickDays.map(toDate)).tickSize(0)
          .tickFormat((d, i) => xTickLabels[i]));
      xa.attr("font-family", SERIF);
      xa.select(".domain").remove();
      xa.selectAll(".tick text").attr("font-family", SERIF).attr("font-size", 25).attr("fill", "#111")
        .attr("y", 30.5).attr("dy", 0).attr("dx", 8);
    }
  });

  // ---- annotations ----
  const a = svg.append("g").attr("transform", `translate(0,${st.annOff})`)
    .attr("font-family", SERIF).attr("font-size", 30).attr("fill", "#111");
  a.append("path").attr("d", "M355,186V197.3H405V186M380,197.3V208").attr("fill", "none")
    .attr("stroke", "#111").attr("stroke-width", 2.2);
  a.append("line").attr("x1", 380).attr("y1", 210).attr("x2", 353).attr("y2", 222)
    .attr("stroke", "#111").attr("stroke-width", 1.2);
  a.append("text").attr("x", 233).attr("y", 244).attr("textLength", 188)
    .attr("lengthAdjust", "spacingAndGlyphs").text("After intrusion");
  [[478.3, 178.3, 218.3], [500, 191.7, 231.7], [520, 189.3, 228.3]].forEach(([ax_, tip, bot]) => {
    a.append("path").attr("d", `M${ax_},${tip}L${ax_ - 7.2},${tip + 15}L${ax_ + 7.2},${tip + 15}Z`).attr("fill", "#111");
    a.append("line").attr("x1", ax_).attr("x2", ax_).attr("y1", tip + 14).attr("y2", bot)
      .attr("stroke", "#111").attr("stroke-width", 3);
  });
  [[476.7, 206.7, 443.3, 303.3], [500, 218.3, 525, 238.3], [521.7, 201.7, 550, 200]].forEach(([x1, y1, x2, y2]) => {
    a.append("line").attr("x1", x1).attr("y1", y1).attr("x2", x2).attr("y2", y2)
      .attr("stroke", "#111").attr("stroke-width", 1.2);
  });
  a.append("text").attr("x", 556.7).attr("y", 216.7).attr("textLength", 187)
    .attr("lengthAdjust", "spacingAndGlyphs").text("After intrusion");
  a.append("text").attr("x", 528.3).attr("y", 251.5).attr("textLength", 210)
    .attr("lengthAdjust", "spacingAndGlyphs").text("During intrusion");
  a.append("text").attr("x", 425).attr("y", 326.7).attr("textLength", 205)
    .attr("lengthAdjust", "spacingAndGlyphs").text("Before intrusion");
});

svg.append("text").attr("x", 509.5).attr("y", 1343.5).attr("text-anchor", "middle")
  .attr("font-family", SERIF).attr("font-size", 25).attr("fill", "#111").text(yearLabel);

const legY = [24, 55, 87.3];
const legBase = [31.7, 63.3, 95.7];
const legLen = [171, 66, 154];
const lg = svg.append("g");
seriesNames.forEach((n, i) => {
  lg.append("line").attr("x1", 641.8).attr("x2", 679.4).attr("y1", legY[i]).attr("y2", legY[i])
    .attr("stroke", colors[i]).attr("stroke-width", [1.2, 1.6, 3][i]);
  lg.append("text").attr("x", 687).attr("y", legBase[i])
    .attr("font-family", "'Liberation Mono','DejaVu Sans Mono',monospace").attr("font-size", 29).attr("fill", "#111")
    .attr("textLength", legLen[i]).attr("lengthAdjust", "spacingAndGlyphs").text(n);
});
</script></body></html>
